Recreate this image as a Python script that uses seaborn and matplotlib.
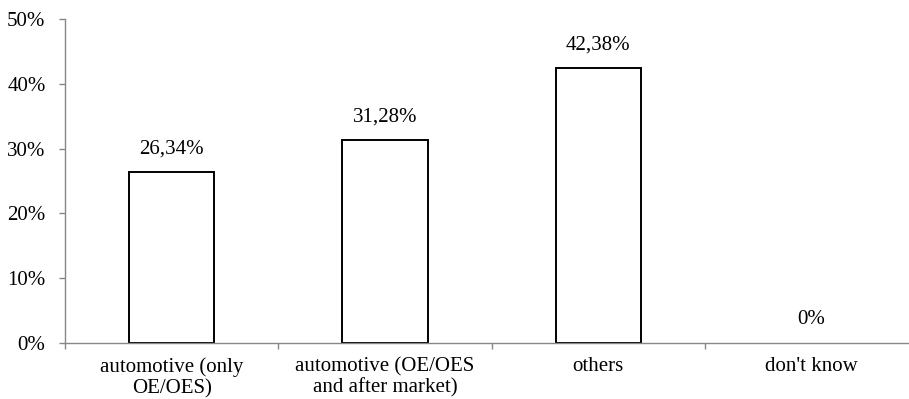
import pandas as pd
import matplotlib.pyplot as plt
from matplotlib.ticker import FixedLocator, PercentFormatter
import seaborn as sns

sns.set_theme(style="white")
plt.rcParams["font.family"] = ["Liberation Serif", "DejaVu Serif"]

categories = ["automotive (only\nOE/OES)", "automotive (OE/OES\nand after market)", "others", "don't know"]
shares = [26.34, 31.28, 42.38, 0.0]
value_labels = ["26,34%", "31,28%", "42,38%", "0%"]

df = pd.DataFrame({"category": categories, "share": shares})

fig = plt.figure(figsize=(9.09, 3.99), dpi=100)
ax = fig.add_axes([65 / 909, 56 / 399, 853.3 / 909, 324 / 399])

sns.barplot(data=df, x="category", y="share", color="white", edgecolor="black",
            linewidth=1.4, width=0.4, ax=ax)

# a zero bar is not drawn at all
for p in ax.patches:
    if p.get_height() == 0:
        p.set_linewidth(0)

# value labels above bars
for i, (v, lab) in enumerate(zip(shares, value_labels)):
    ax.annotate(lab, (i, v), xytext=(0, 10), textcoords="offset points",
                ha="center", va="bottom", fontsize=15, color="black")

ax.set_ylim(0, 50)
ax.set_xlim(-0.5, 3.5)
ax.yaxis.set_major_formatter(PercentFormatter(decimals=0))
ax.set_yticks(range(0, 51, 10))
ax.xaxis.set_minor_locator(FixedLocator([-0.5, 0.5, 1.5, 2.5, 3.5]))

gray = "#878787"
for side in ["top", "right"]:
    ax.spines[side].set_visible(False)
for side in ["left", "bottom"]:
    ax.spines[side].set_color(gray)
    ax.spines[side].set_linewidth(1.0)

ax.tick_params(axis="y", which="major", direction="out", length=4, width=1.0,
               color=gray, labelsize=15, labelcolor="black", pad=10, left=True)
ax.tick_params(axis="x", which="major", length=0, labelsize=15, labelcolor="black", pad=10)
ax.tick_params(axis="x", which="minor", direction="out", length=4, width=1.0,
               color=gray, bottom=True)
for t in ax.get_xticklabels():
    t.set_linespacing(1.15)

ax.set_xlabel("")
ax.set_ylabel("")
ax.grid(False)

fig.savefig("out.png", dpi=100)
